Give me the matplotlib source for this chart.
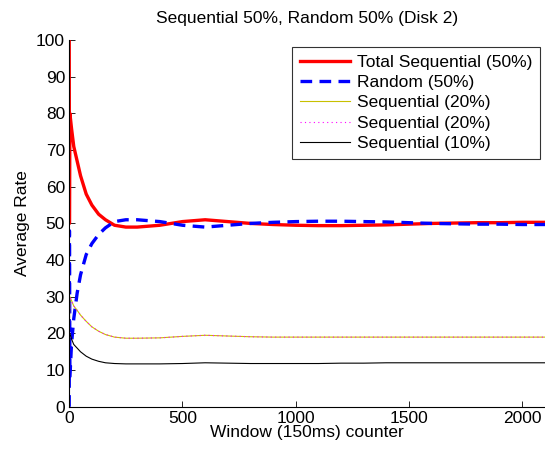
import numpy as np
import matplotlib
matplotlib.use('Agg')
import matplotlib.pyplot as plt

plt.rcParams['font.family'] = ['Liberation Sans', 'DejaVu Sans']

# %% data
window = [0, 1, 3, 10, 20, 35, 50, 75, 100, 130, 160, 200, 250, 300, 400, 500,
          600, 700, 800, 900, 1000, 1100, 1200, 1300, 1400, 1500, 1600, 1700,
          1800, 1900, 2000, 2100]
total_seq = [100, 50, 80, 76, 71, 67, 63, 58, 55, 52.5, 51, 49.5, 49, 49, 49.5, 50.5,
             51, 50.5, 50, 49.7, 49.5, 49.4, 49.4, 49.5, 49.6, 49.8, 50, 50.1,
             50.2, 50.2, 50.3, 50.3]
random_50 = [0, 48, 8, 17, 24, 31, 36, 41.5, 44.5, 47, 48.8, 50.5, 51, 51, 50.5, 49.5,
             49, 49.5, 50, 50.3, 50.5, 50.6, 50.6, 50.5, 50.4, 50.2, 50, 49.9,
             49.8, 49.8, 49.7, 49.7]
seq_20a = [50, 22, 30, 29, 27.5, 26.3, 25, 23.3, 21.8, 20.6, 19.7, 19, 18.7, 18.7, 18.8, 19.2,
           19.5, 19.3, 19.1, 19, 19, 19, 19, 19, 19, 19, 19, 19,
           19, 19, 19, 19]
seq_20b = [50, 22, 30, 29, 27.5, 26.3, 25, 23.3, 21.8, 20.6, 19.7, 19, 18.7, 18.7, 18.8, 19.2,
           19.5, 19.3, 19.1, 19, 19, 19, 19, 19, 19, 19, 19, 19,
           19, 19, 19, 19]
seq_10 = [20, 20, 20, 18.5, 17, 16, 15, 13.8, 13, 12.4, 12, 11.8, 11.7, 11.7, 11.7, 11.8,
          12, 11.9, 11.8, 11.8, 11.8, 11.8, 11.9, 11.9, 12, 12, 12, 12,
          12, 12, 12, 12]

# %% plot
fig = plt.figure(figsize=(5.45, 4.5), dpi=100)
ax = fig.add_axes([0.127, 0.096, 0.873, 0.815])

ax.plot(window, total_seq, color='red', lw=2.4, label='Total Sequential (50%)')
ax.plot(window, random_50, color='blue', lw=2.4, ls=(0, (3.5, 2.2)), label='Random (50%)')
ax.plot(window, seq_20a, color='#c8c000', lw=0.8, label='Sequential (20%)')
ax.plot(window, seq_20b, color='magenta', lw=0.8, ls=(0, (1, 3)), label='Sequential (20%)')
ax.plot(window, seq_10, color='black', lw=0.8, label='Sequential (10%)')

ax.set_xlim(0, 2100)
ax.set_ylim(0, 100)
ax.set_xticks([0, 500, 1000, 1500, 2000])
ax.set_yticks(np.arange(0, 101, 10))
ax.tick_params(direction='in', labelsize=12.5, length=4, width=0.6, pad=3)
for s in ['top', 'right']:
    ax.spines[s].set_visible(False)

ax.set_title('Sequential 50%, Random 50% (Disk 2)', fontsize=12.5, pad=12)
ax.set_xlabel('Window (150ms) counter', fontsize=12.5, labelpad=-1)
ax.set_ylabel('Average Rate', fontsize=12.5, labelpad=4)

leg = ax.legend(loc='upper right', bbox_to_anchor=(0.991, 0.896),
                bbox_transform=fig.transFigure, fontsize=12.5, frameon=True,
                fancybox=False, handlelength=2.9, borderpad=0.45, labelspacing=0.3,
                handletextpad=0.4, borderaxespad=0)
leg.get_frame().set_edgecolor('black')
leg.get_frame().set_linewidth(0.8)

plt.savefig('out.png', dpi=100)
